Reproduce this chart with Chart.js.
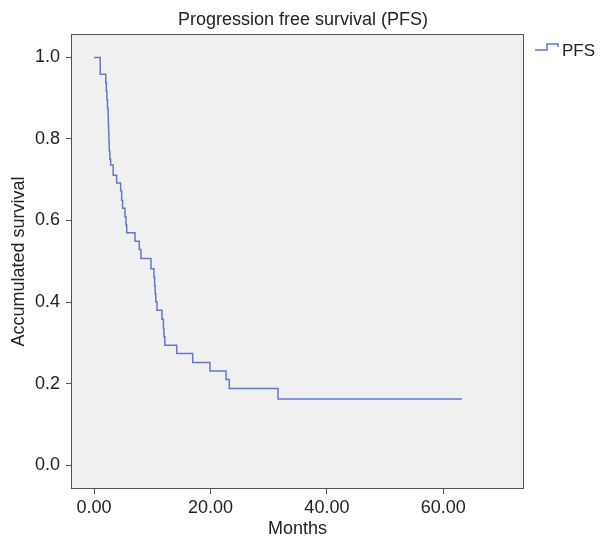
<!DOCTYPE html>
<html>
<head>
<meta charset="utf-8">
<script src="https://cdn.jsdelivr.net/npm/chart.js@4.4.0/dist/chart.umd.min.js"></script>
<style>
html,body{margin:0;padding:0;background:#fff;}
#wrap{width:600px;height:540px;}
</style>
</head>
<body>
<div id="wrap"><canvas id="c" width="600" height="540"></canvas></div>
<script>
const chartTitle = "Progression free survival (PFS)";
const seriesName = "PFS";
const months = [0, 1.05, 2.0, 2.1, 2.2, 2.3, 2.4, 2.45, 2.5, 2.55, 2.6, 2.7, 2.84, 3.28, 3.87, 4.56, 4.73, 4.9, 5.3, 5.47, 5.6, 7.02, 7.76, 8.05, 9.77, 10.28, 10.4, 10.5, 10.6, 10.8, 11.66, 11.9, 12.0, 12.15, 14.19, 16.94, 19.91, 22.67, 23.23, 31.6, 63.2];
const survival = [1.0, 0.959, 0.938, 0.917, 0.896, 0.875, 0.854, 0.833, 0.813, 0.792, 0.771, 0.75, 0.736, 0.711, 0.692, 0.673, 0.65, 0.63, 0.609, 0.589, 0.57, 0.549, 0.529, 0.507, 0.482, 0.461, 0.44, 0.42, 0.4, 0.38, 0.358, 0.336, 0.315, 0.294, 0.274, 0.252, 0.231, 0.21, 0.188, 0.162, 0.162];
const xTicks = [0, 20, 40, 60];
const yTicks = [0, 0.2, 0.4, 0.6, 0.8, 1.0];

const LINE = '#6479c6';
const FONT = "'Liberation Sans', Arial, sans-serif";

const points = months.map((m, i) => ({x: m, y: survival[i]}));

const frame = {
  id: 'frame',
  beforeDatasetsDraw(chart) {
    const {ctx, chartArea: a} = chart;
    ctx.save();
    ctx.fillStyle = '#f0f0f0';
    ctx.fillRect(a.left, a.top, a.right - a.left, a.bottom - a.top);
    ctx.restore();
  },
  afterDatasetsDraw(chart) {
    const {ctx, chartArea: a} = chart;
    ctx.save();
    ctx.strokeStyle = '#555';
    ctx.lineWidth = 1;
    ctx.strokeRect(Math.round(a.left) - 0.5, Math.round(a.top) - 0.5, Math.round(a.right - a.left) + 1, Math.round(a.bottom - a.top) + 1);
    ctx.restore();
  },
  afterDraw(chart) {
    const {ctx, chartArea: a} = chart;
    ctx.save();
    // title, centred on the whole figure
    ctx.fillStyle = '#222';
    ctx.font = "18px " + FONT;
    ctx.textBaseline = 'middle';
    ctx.textAlign = 'center';
    ctx.fillText(chartTitle, 303, 20);
    // legend
    const x0 = a.right + 12, y0 = 50;
    ctx.strokeStyle = LINE;
    ctx.lineWidth = 1.5;
    ctx.beginPath();
    ctx.moveTo(x0, y0);
    ctx.lineTo(x0 + 12, y0);
    ctx.lineTo(x0 + 12, y0 - 6);
    ctx.lineTo(x0 + 23, y0 - 6);
    ctx.lineTo(x0 + 23, y0 - 3);
    ctx.stroke();
    ctx.font = "17px " + FONT;
    ctx.textAlign = 'left';
    ctx.fillText(seriesName, x0 + 27, y0 + 1);
    ctx.restore();
  }
};

new Chart(document.getElementById('c'), {
  type: 'line',
  data: {
    datasets: [{
      label: seriesName,
      data: points,
      stepped: 'before',
      borderColor: LINE,
      borderWidth: 1.5,
      pointRadius: 0,
      fill: false
    }]
  },
  options: {
    responsive: false,
    animation: false,
    layout: {padding: {right: 77, top: 35, bottom: 0, left: 0}},
    plugins: {
      legend: {display: false},
      tooltip: {enabled: false},
      title: {display: false}
    },
    scales: {
      x: {
        type: 'linear',
        min: -3.8,
        max: 73.7,
        afterBuildTicks(s) { s.ticks = xTicks.map(v => ({value: v})); },
        afterFit(s) { s.height = 52; },
        grid: {display: true, drawOnChartArea: false, drawTicks: true, tickLength: 6, color: '#555'},
        border: {display: false},
        ticks: {
          color: '#222',
          font: {family: FONT, size: 18},
          padding: 3,
          maxRotation: 0,
          callback: v => Number(v).toFixed(2)
        },
        title: {
          display: true,
          text: 'Months',
          color: '#222',
          font: {family: FONT, size: 18},
          padding: {top: 0, bottom: 0}
        }
      },
      y: {
        type: 'linear',
        min: -0.056,
        max: 1.055,
        afterBuildTicks(s) { s.ticks = yTicks.map(v => ({value: v})); },
        afterFit(s) { s.width = 72; },
        grid: {display: true, drawOnChartArea: false, drawTicks: true, tickLength: 6, color: '#555'},
        border: {display: false},
        ticks: {
          color: '#222',
          font: {family: FONT, size: 18},
          padding: 6,
          callback: v => Number(v).toFixed(1)
        },
        title: {
          display: true,
          text: 'Accumulated survival',
          color: '#222',
          font: {family: FONT, size: 18},
          padding: {top: 8, bottom: 0}
        }
      }
    }
  },
  plugins: [frame]
});
</script>
</body>
</html>
